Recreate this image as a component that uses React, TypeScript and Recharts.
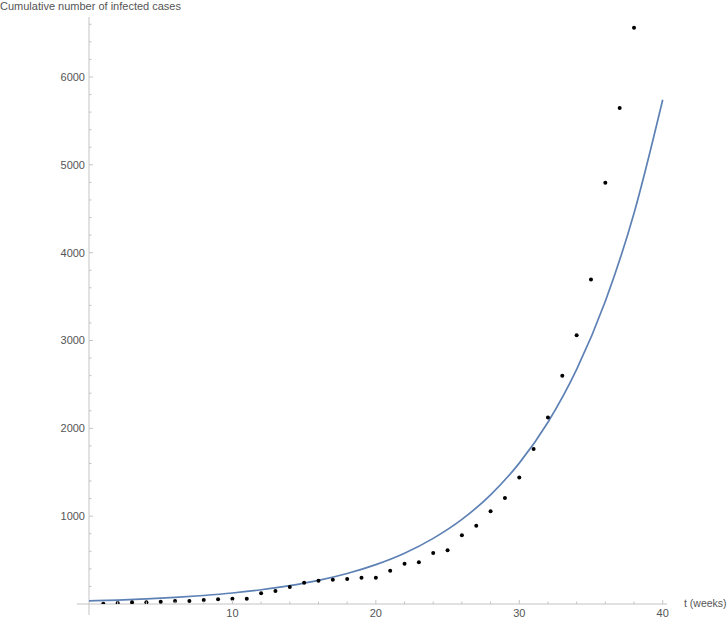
import { ComposedChart, Line, Scatter, XAxis, YAxis, ReferenceLine } from 'recharts';

// observed weekly cumulative cases (weeks 1..38)
const weeks = [1, 2, 3, 4, 5, 6, 7, 8, 9, 10, 11, 12, 13, 14, 15, 16, 17, 18, 19, 20, 21, 22, 23, 24, 25, 26, 27, 28, 29, 30, 31, 32, 33, 34, 35, 36, 37, 38];
const cases = [3, 11, 19, 19, 26, 34, 34, 46, 53, 61, 61, 122, 148, 194, 243, 266, 277, 285, 300, 300, 379, 459, 475, 581, 611, 782, 892, 1056, 1207, 1439, 1765, 2122, 2600, 3060, 3694, 4795, 5646, 6560];

const fitT = [0, 2, 4, 6, 8, 10, 12, 14, 16, 18, 20, 22, 24, 26, 28, 30, 32, 34, 36, 38, 40];
const fitCases = [35, 45, 58, 75, 97, 125, 162, 209, 269, 347, 448, 578, 747, 963, 1243, 1604, 2070, 2671, 3447, 4449, 5741];

const xTicks = [2, 4, 6, 8, 10, 12, 14, 16, 18, 20, 22, 24, 26, 28, 30, 32, 34, 36, 38, 40];
const xMajor = [10, 20, 30, 40];
const yTicks = [200, 400, 600, 800, 1000, 1200, 1400, 1600, 1800, 2000, 2200, 2400, 2600, 2800, 3000, 3200, 3400, 3600, 3800, 4000, 4200, 4400, 4600, 4800, 5000, 5200, 5400, 5600, 5800, 6000, 6200, 6400, 6600];
const yMajor = [1000, 2000, 3000, 4000, 5000, 6000];

const points = weeks.map((t, i) => ({ t, cases: cases[i] }));
const fit = fitT.map((t, i) => ({ t, fit: fitCases[i] }));

const AXIS = '#c4c4c4';
const LABEL = '#555555';
const FONT = '"Liberation Sans", Arial, sans-serif';

function XTick({ x, y, payload }: any) {
    const major = xMajor.includes(payload.value);
    return (
        <g>
            <line x1={x} y1={y} x2={x} y2={y - (major ? 4 : 2.5)} stroke={AXIS} />
            {major && (
                <text x={x} y={y + 9} dy="0.35em" textAnchor="middle" fontSize={11} fill={LABEL} fontFamily={FONT}>
                    {payload.value}
                </text>
            )}
        </g>
    );
}

function YTick({ x, y, payload }: any) {
    const major = yMajor.includes(payload.value);
    return (
        <g>
            <line x1={x} y1={y} x2={x + (major ? 4 : 2.5)} y2={y} stroke={AXIS} />
            {major && (
                <text x={x - 4} y={y} dy="0.35em" textAnchor="end" fontSize={11} fill={LABEL} fontFamily={FONT}>
                    {payload.value}
                </text>
            )}
        </g>
    );
}

export default function App() {
    return (
        <div style={{ position: 'relative', width: 728, height: 618, background: '#fff', overflow: 'hidden' }}>
            <style>{'body{margin:0}'}</style>
            <ComposedChart width={728} height={618} margin={{ top: 17, right: 61, left: 0, bottom: 0 }}>
                <XAxis
                    type="number"
                    dataKey="t"
                    domain={[0, 40.3]}
                    ticks={xTicks}
                    interval={0}
                    tick={<XTick />}
                    axisLine={false}
                    tickLine={false}
                    tickSize={0}
                    tickMargin={0}
                    height={14}
                    allowDataOverflow
                />
                <YAxis
                    type="number"
                    domain={[0, 6683]}
                    ticks={yTicks}
                    interval={0}
                    tick={<YTick />}
                    axisLine={false}
                    tickLine={false}
                    tickSize={0}
                    tickMargin={0}
                    width={89}
                    allowDataOverflow
                />
                <ReferenceLine segment={[{ x: -0.85, y: 0 }, { x: 40.3, y: 0 }]} stroke={AXIS} ifOverflow="visible" />
                <ReferenceLine segment={[{ x: 0, y: -125 }, { x: 0, y: 6683 }]} stroke={AXIS} ifOverflow="visible" />
                <Line
                    data={fit}
                    dataKey="fit"
                    type="monotone"
                    stroke="#5e81b5"
                    strokeWidth={1.7}
                    dot={false}
                    activeDot={false}
                    isAnimationActive={false}
                />
                <Scatter
                    data={points}
                    dataKey="cases"
                    isAnimationActive={false}
                    shape={(p: any) => <circle cx={p.cx} cy={p.cy} r={2} fill="#000" />}
                />
            </ComposedChart>
            <div style={{ position: 'absolute', left: 0, top: 0, fontFamily: FONT, fontSize: 11, lineHeight: '13px', color: LABEL, whiteSpace: 'nowrap' }}>
                Cumulative number of infected cases
            </div>
            <div style={{ position: 'absolute', left: 684, top: 597, fontFamily: FONT, fontSize: 10.5, lineHeight: '13px', color: LABEL, whiteSpace: 'nowrap' }}>
                t (weeks)
            </div>
        </div>
    );
}
